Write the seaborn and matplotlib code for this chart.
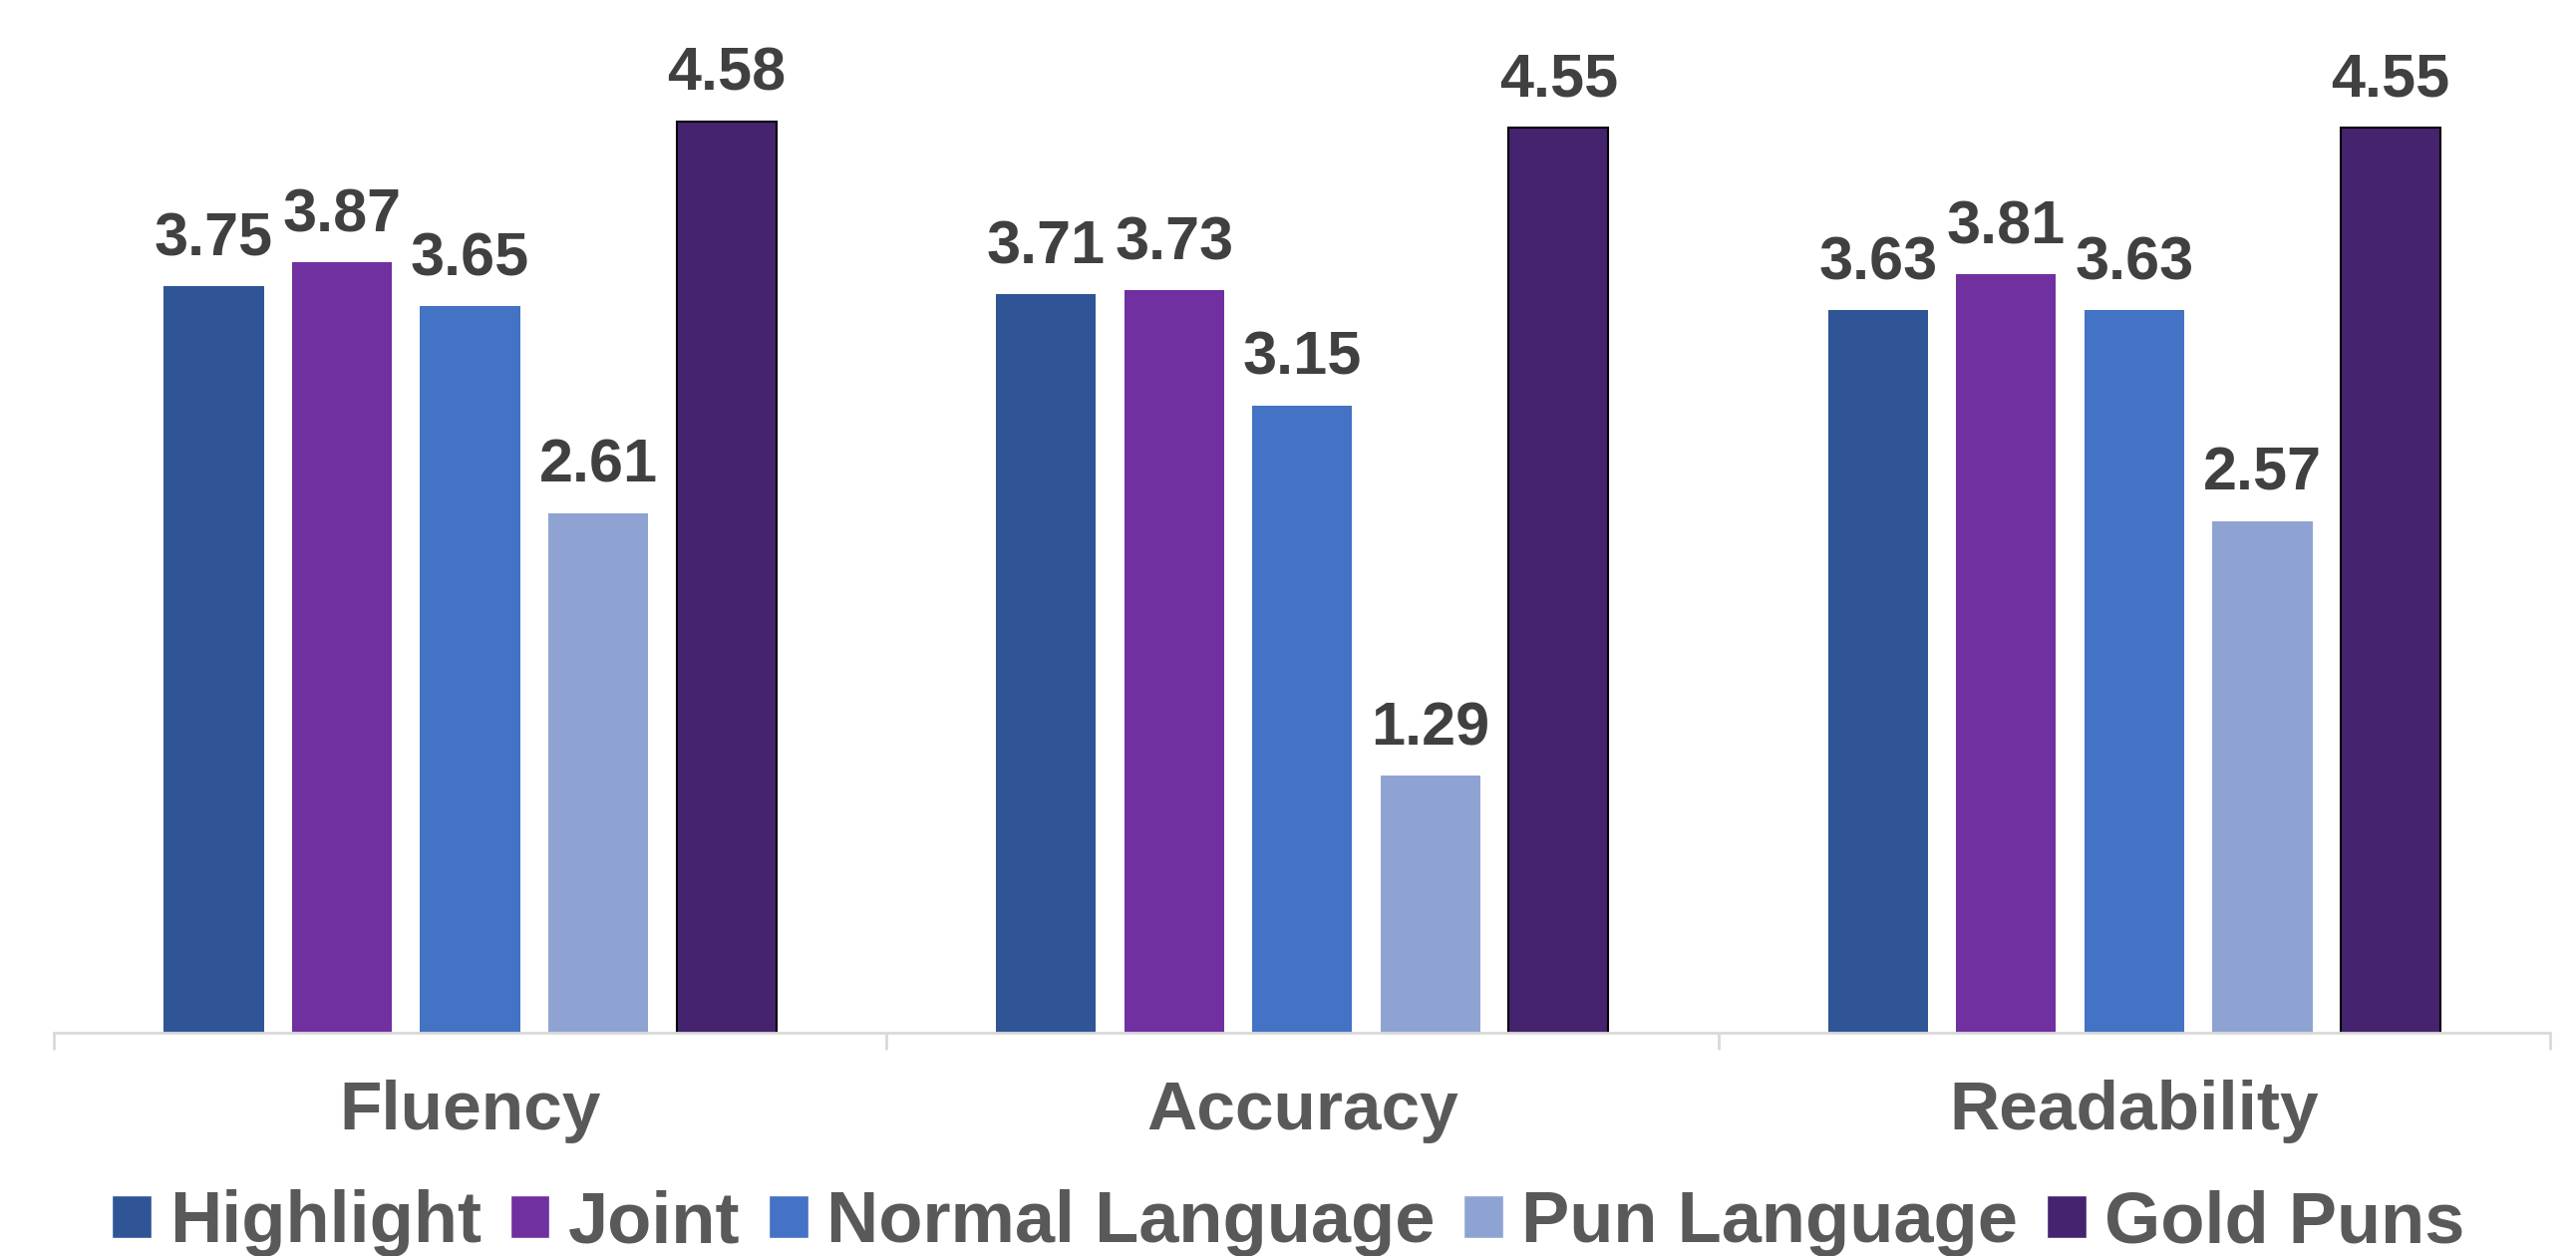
import matplotlib
matplotlib.use('Agg')
import matplotlib.pyplot as plt
import seaborn as sns
import pandas as pd
import numpy as np

categories = ['Fluency', 'Accuracy', 'Readability']
methods = ['Highlight', 'Joint', 'Normal Language', 'Pun Language', 'Gold Puns']
highlight = [3.75, 3.71, 3.63]
joint = [3.87, 3.73, 3.81]
normal_language = [3.65, 3.15, 3.63]
pun_language = [2.61, 1.29, 2.57]
gold_puns = [4.58, 4.55, 4.55]

colors = ['#2F5597', '#7030A0', '#4472C4', '#8FA3D3', '#45236F']

df = pd.DataFrame({
    'category': categories * 5,
    'method': np.repeat(methods, 3),
    'score': highlight + joint + normal_language + pun_language + gold_puns,
})

sns.set_style('white')
plt.rcParams['font.family'] = ['Liberation Sans', 'DejaVu Sans']

fig = plt.figure(figsize=(25.84, 12.6), dpi=100)
ax = fig.add_axes([0.021, 0.178, 0.969, 0.792])

sns.barplot(
    data=df, x='category', y='score', hue='method',
    order=categories, hue_order=methods, palette=colors,
    width=0.77, gap=0.22, saturation=1, ax=ax, legend=True,
)

for i, cont in enumerate(ax.containers):
    for bar in cont:
        if i == 4:
            bar.set_edgecolor('black')
            bar.set_linewidth(1.5)
        else:
            bar.set_edgecolor('none')
    ax.bar_label(cont, fmt='%.2f', padding=13, fontsize=44,
                 fontweight='bold', color='#404040')

ax.set_ylim(0, 5.0)
ax.set_xlim(-0.5, 2.5)
ax.set_yticks([])
ax.set_xlabel('')
ax.set_ylabel('')
for s in ['top', 'right', 'left']:
    ax.spines[s].set_visible(False)
ax.spines['bottom'].set_color('#D9D9D9')
ax.spines['bottom'].set_linewidth(2)

ax.set_xticks([-0.5, 0.5, 1.5, 2.5], minor=True)
ax.tick_params(axis='x', which='minor', bottom=True, length=12, width=2,
               color='#D9D9D9', direction='out')
ax.tick_params(axis='x', which='major', length=0, pad=34)
for lbl in ax.get_xticklabels():
    lbl.set_fontsize(50)
    lbl.set_fontweight('bold')
    lbl.set_color('#595959')

handles, labels = ax.get_legend_handles_labels()
ax.get_legend().remove()
fig.legend(
    handles, labels, loc='center', bbox_to_anchor=(0.5, 0.026), ncol=5,
    frameon=False, handlelength=0.55, handleheight=0.55,
    handletextpad=0.25, columnspacing=0.4,
    prop={'size': 52, 'weight': 'bold'}, labelcolor='#595959',
)

fig.savefig('out.png', dpi=100)
